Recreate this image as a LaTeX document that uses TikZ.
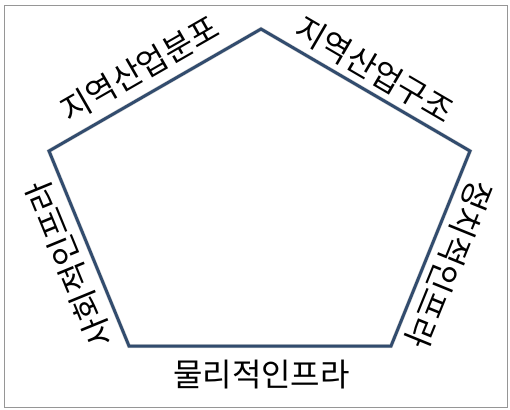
\documentclass[tikz,border=0pt]{standalone}
\usepackage{fontspec}
\newfontfamily\kr{Noto Sans CJK KR}
\usetikzlibrary{calc}
\definecolor{edgeblue}{RGB}{50,76,110}
\definecolor{framegray}{RGB}{150,150,150}
\begin{document}
\begin{tikzpicture}[x=1pt,y=-1pt,
  side/.style={font=\kr\fontsize{32}{32}\selectfont, inner sep=0pt},
  rim/.style={draw=edgeblue, line width=3pt, line join=miter}]
\useasboundingbox (0,0) rectangle (510,409);
\draw[framegray] (4,5) rectangle (507,407);
% corners of the pentagon
\coordinate (pT) at (261,29);
\coordinate (pR) at (470,151);
\coordinate (pBR) at (391,346);
\coordinate (pBL) at (129,346);
\coordinate (pL) at (49,151);
% soft shadow, then the outline
\draw[gray, opacity=0.3, line width=4pt, shift={(2,2)}] (pT) -- (pR) -- (pBR) -- (pBL) -- (pL) -- cycle;
\draw[rim] (pT) -- (pR) -- (pBR) -- (pBL) -- (pL) -- cycle;
% labels along the sides
\node[side, rotate=29.9] (distTL) at ($(pL)!0.49!(pT)!26pt!90:(pT)$) {지역산업분포};
\node[side, rotate=-30.3] (structTR) at ($(pT)!0.49!(pR)!22pt!90:(pR)$) {지역산업구조};
\node[side, rotate=-112.1] (polR) at ($(pR)!0.535!(pBR)!23pt!90:(pBR)$) {정치적인프라};
\node[side] (physB) at (261.5,375) {물리적인프라};
\node[side, rotate=112.3] (socL) at ($(pBL)!0.466!(pL)!24pt!90:(pL)$) {사회적인프라};
\end{tikzpicture}
\end{document}
